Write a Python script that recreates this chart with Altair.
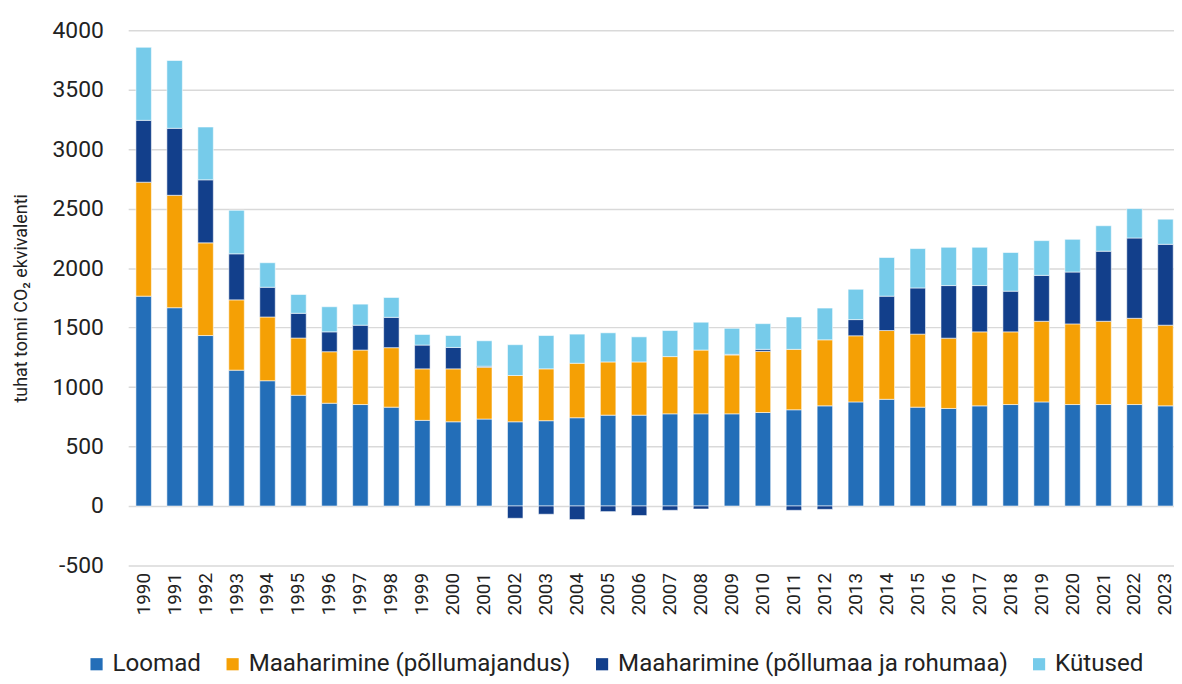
import altair as alt
import pandas as pd

years = [str(y) for y in range(1990, 2024)]
series_names = ["Loomad", "Maaharimine (põllumajandus)",
                "Maaharimine (põllumaa ja rohumaa)", "Kütused"]
series_colors = ["#236EB8", "#F5A005", "#123F8B", "#76CBEA"]

loomad = [1764, 1667, 1433, 1142, 1053, 931, 864, 853, 831, 720,
          708, 731, 708, 717, 742, 764, 764, 775, 775, 775,
          786, 809, 842, 875, 897, 831, 820, 842, 853, 875,
          853, 853, 853, 842]
pollumajandus = [958, 945, 779, 591, 536, 481, 433, 458, 500, 433,
                 445, 436, 389, 436, 458, 447, 447, 481, 536, 495,
                 514, 508, 555, 556, 578, 614, 591, 622, 611, 678,
                 678, 700, 725, 678]
rohumaa = [520, 563, 530, 387, 250, 208, 167, 209, 255, 200,
           180, 8, -103, -69, -114, -47, -80, -36, -25, 5,
           17, -36, -28, 136, 289, 388, 442, 389, 342, 386,
           436, 589, 675, 680]
kytused = [614, 570, 444, 366, 206, 158, 211, 177, 167, 89,
           100, 214, 259, 280, 245, 245, 211, 219, 234, 219,
           216, 272, 267, 255, 325, 331, 322, 322, 325, 292,
           275, 214, 247, 211]

rows = []
for i, y in enumerate(years):
    for k, (name, vals) in enumerate(zip(series_names, [loomad, pollumajandus, rohumaa, kytused])):
        rows.append({"aasta": y, "seeria": name, "vaartus": vals[i], "jrk": k})
df = pd.DataFrame(rows)

FONT = "Roboto"
TXT = "#222222"

chart = alt.Chart(df).mark_bar(stroke="#ffffff", strokeWidth=0.8, strokeOpacity=0.7).encode(
    x=alt.X("aasta:N", title=None, sort=years,
            scale=alt.Scale(paddingInner=0.5, paddingOuter=0.25),
            axis=alt.Axis(labelAngle=-90, labelFontSize=19, labelFont=FONT, labelColor=TXT,
                          ticks=False, domain=False, labelPadding=7, grid=False,
                          labelBaseline="middle", labelAlign="right")),
    y=alt.Y("vaartus:Q", title="tuhat tonni CO₂ ekvivalenti", stack="zero",
            scale=alt.Scale(domain=[-500, 4000], nice=False),
            axis=alt.Axis(values=list(range(-500, 4001, 500)), labelExpr="'' + datum.value",
                          labelFontSize=23, labelFont=FONT,
                          labelColor=TXT, ticks=False, domain=False, labelPadding=25,
                          gridColor="#d9d9d9", gridWidth=1.5,
                          titleFont=FONT, titleFontSize=18, titleFontWeight="normal",
                          titleColor=TXT, titlePadding=22)),
    color=alt.Color("seeria:N", title=None,
                    scale=alt.Scale(domain=series_names, range=series_colors),
                    legend=alt.Legend(orient="none", legendX=-44, legendY=626, direction="horizontal",
                                      columns=4, labelFont=FONT, labelFontSize=24.3, labelColor=TXT,
                                      symbolType="square", symbolSize=150, symbolStrokeWidth=0,
                                      labelOffset=4, columnPadding=19, labelLimit=600)),
    order=alt.Order("jrk:Q", sort="ascending"),
).properties(
    width=1060, height=539,
    autosize=alt.AutoSizeParams(type="none"),
    padding={"left": 121, "top": 20, "right": -7, "bottom": 117},
).configure_view(stroke=None)

chart.save("out.html", embed_options={"renderer": "svg", "actions": False})
